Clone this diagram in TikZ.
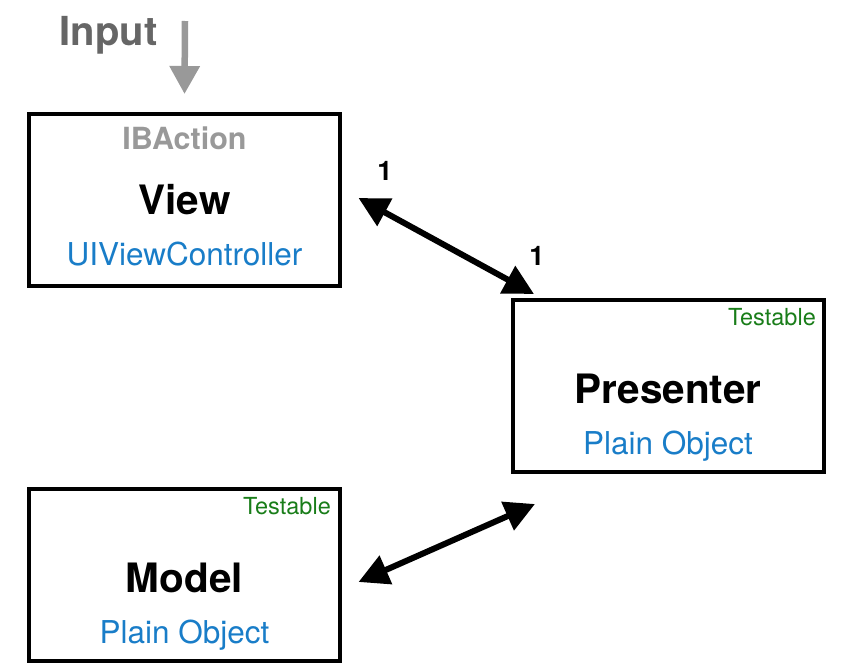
\documentclass[tikz,border=0pt]{standalone}
\usepackage{fontspec}
\setmainfont{TeX Gyre Heros}
\usetikzlibrary{arrows.meta}
\definecolor{ibgray}{RGB}{153,153,153}
\definecolor{inputgray}{RGB}{102,102,102}
\definecolor{typeblue}{RGB}{25,125,200}
\definecolor{testgreen}{RGB}{25,125,25}

\begin{document}
\begin{tikzpicture}[x=1pt,y=-1pt]

%
% Styles
%
\tikzstyle{box}    = [draw=black, line width=4pt, minimum width=311pt, minimum height=172pt, inner sep=0pt]
\tikzstyle{title}  = [anchor=base, inner sep=0pt, font=\fontsize{40.5}{42}\selectfont\bfseries]
\tikzstyle{kind}   = [anchor=base, inner sep=0pt, text=typeblue, font=\fontsize{31.5}{33}\selectfont]
\tikzstyle{action} = [anchor=base, inner sep=0pt, text=ibgray, font=\fontsize{30.5}{32}\selectfont\bfseries]
\tikzstyle{tested} = [anchor=base east, inner sep=0pt, text=testgreen, font=\fontsize{23.5}{25}\selectfont]
\tikzstyle{mult}   = [anchor=base, inner sep=0pt, font=\fontsize{27}{29}\selectfont\bfseries]

\tikzstyle{edge}   = [{Triangle[length=30pt,width=30pt]}-{Triangle[length=30pt,width=30pt]}, line width=6pt]
\tikzstyle{inedge} = [-{Triangle[length=28pt,width=29pt]}, draw=ibgray, line width=6.5pt]

\useasboundingbox (0,0) rectangle (860,672);

\node[box]    (view)      at (184.5,200)   {};
\node[box]    (presenter) at (668,386)     {};
\node[box]    (model)     at (184.5,574.5) {};

\node[action] (viewaction)     at (184.5,149) {IBAction};
\node[title]  (viewtitle)      at (184.5,214) {View};
\node[kind]   (viewkind)       at (184.5,265) {UIViewController};

\node[tested] (presentertest)  at (816,325)   {Testable};
\node[title]  (presentertitle) at (668,403)   {Presenter};
\node[kind]   (presenterkind)  at (668,454)   {Plain Object};

\node[tested] (modeltest)      at (331,514)   {Testable};
\node[title]  (modeltitle)     at (184.5,592) {Model};
\node[kind]   (modelkind)      at (184.5,643) {Plain Object};

\node[anchor=base, inner sep=0pt, text=inputgray, font=\fontsize{40}{42}\selectfont\bfseries] (input) at (108.5,45) {Input};
\coordinate (inputtop) at (185,21);

\node[mult]   (viewmult)       at (385,180)   {1};
\node[mult]   (presentermult)  at (537,265)   {1};

\draw[inedge] (inputtop) -- ([yshift=18pt]view.north);
\draw[edge]   ([shift={(16.5pt,2pt)}]view.east) -- ([shift={(23.5pt,4pt)}]presenter.north west);
\draw[edge]   ([shift={(16.5pt,-7.5pt)}]model.east) -- ([shift={(24.5pt,-30pt)}]presenter.south west);

\end{tikzpicture}
\end{document}
